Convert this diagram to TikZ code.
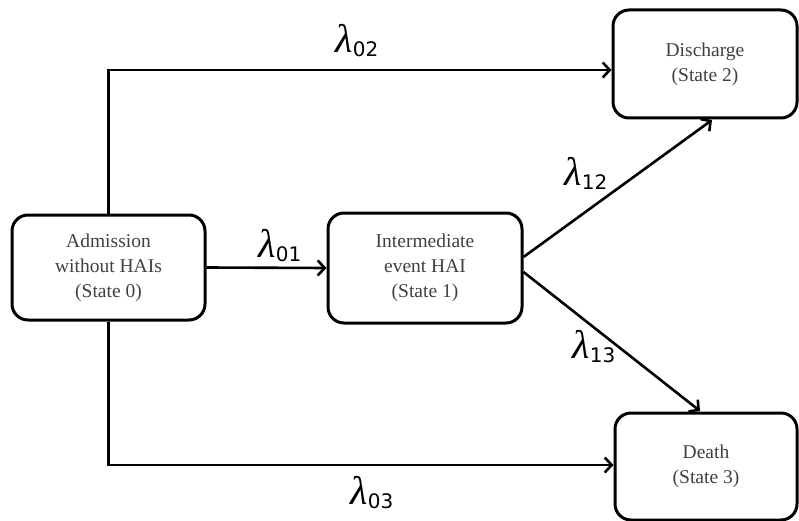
\documentclass[tikz,border=0pt]{standalone}
\usepackage{fontspec}
\setmainfont{Liberation Serif}
\setsansfont{DejaVu Sans}
\usetikzlibrary{arrows.meta}
\newcommand\lamlab[1]{{\fontsize{40}{42}\selectfont\itshape λ}\kern0pt\raisebox{-4pt}{\fontsize{20}{20}\selectfont\sffamily #1}}
\begin{document}
\begin{tikzpicture}[x=1pt,y=-1pt,
  statebox/.style={draw=black, line width=3pt, rounded corners=16pt, align=center,
    text=black!75, font=\fontsize{19.5}{25}\selectfont, inner sep=0pt},
  arr/.style={line width=2.6pt, -{Straight Barb[length=7pt,width=15pt,line width=2.6pt]}},
  lab/.style={inner sep=0pt, text=black}]
\useasboundingbox (0,0) rectangle (799,521);
\node[statebox, minimum width=193pt, minimum height=105pt] (b0) at (108.5,267.5)
  {Admission\\without HAIs\\(State 0)};
\node[statebox, minimum width=194pt, minimum height=110pt] (b1) at (425,268)
  {Intermediate\\event HAI\\(State 1)};
\node[statebox, minimum width=184pt, minimum height=108pt] (b2) at (705,64)
  {Discharge\\(State 2)};
\node[statebox, minimum width=182pt, minimum height=107pt] (b3) at (706,466.5)
  {Death\\(State 3)};
\coordinate (t12) at (712,120);
\coordinate (t13) at (700,411);
\draw[arr] (b0.north) |- (b2.west |- 0,70);
\draw[arr] (b0.south) |- (b3.west |- 0,465);
\draw[arr] (b0.east) -- (b1.west);
\draw[arr] (b1.east |- 0,257) -- (t12);
\draw[arr] (b1.east |- 0,272) -- (t13);
\node[lab] (l02) at (357,41) {\lamlab{02}};
\node[lab] (l01) at (280,246) {\lamlab{01}};
\node[lab] (l12) at (586,173) {\lamlab{12}};
\node[lab] (l13) at (594,347) {\lamlab{13}};
\node[lab] (l03) at (372,493) {\lamlab{03}};
\end{tikzpicture}
\end{document}
